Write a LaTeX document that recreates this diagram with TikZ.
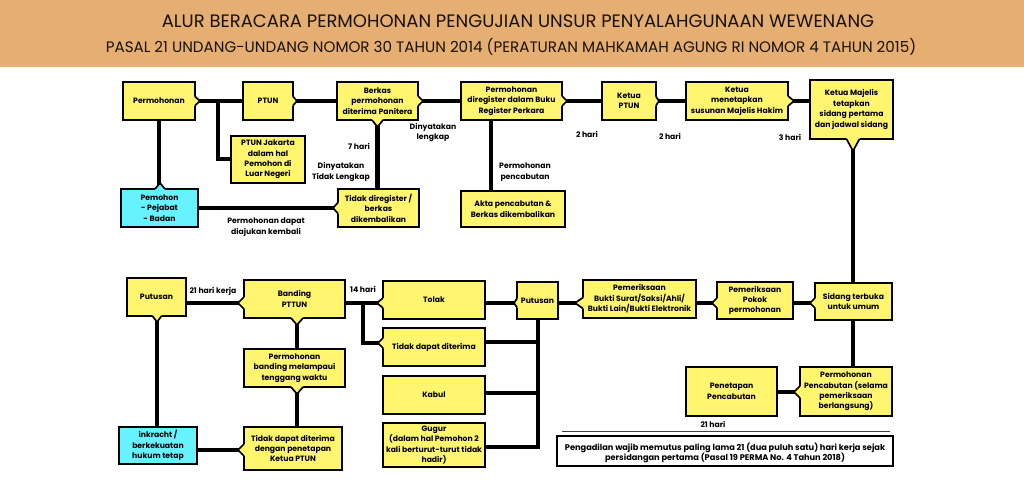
\documentclass[tikz,border=0pt]{standalone}
\usepackage{fontspec}
\setmainfont{Poppins}
\newfontfamily\titlefont{Poppins}
\definecolor{hdr}{HTML}{E5AE72}
\definecolor{boxy}{HTML}{FFF56F}
\definecolor{boxc}{HTML}{66F2FF}
\definecolor{ink}{HTML}{1A1208}
\tikzset{
  lab/.style={font=\bfseries\fontsize{7.7}{10.4}\selectfont,align=center,inner sep=0pt,text=black},
  boxed/.style={lab,draw=black,line width=1.7pt,fill=boxy,outer sep=0pt},
  conn/.style={draw=black,line width=4.8pt},
  tipline/.style={draw=black,line width=1.7pt,line join=miter},
  ttl/.style={text=ink,inner sep=0pt}
}
\newcommand\bxx[6][boxy]{\node[boxed,fill=#1,minimum width={(#5-#3)*1pt},minimum height={(#6-#4)*1pt}] (#2) at ({(#3+#5)/2},{(#4+#6)/2})}
% \tipat[fill]{point}{rotation}{length}{half base}
\newcommand\tipat[5][boxy]{%
  \begin{scope}[shift={(#2)},rotate=#3]
    \fill[#1] (-1.4,#5) -- (0,#5) -- (#4,0) -- (0,-#5) -- (-1.4,-#5) -- cycle;
    \draw[tipline] (0,#5) -- (#4,0) -- (0,-#5);
  \end{scope}}
\begin{document}
\begin{tikzpicture}[x=1pt,y=-1pt]
\useasboundingbox (0,0) rectangle (1024,479);
\fill[white] (0,0) rectangle (1024,479);
\fill[hdr] (0,0) rectangle (1024,66.5);
\node[ttl,font=\titlefont\fontsize{18}{20}\selectfont] (t1) at (518,21) {ALUR BERACARA PERMOHONAN PENGUJIAN UNSUR PENYALAHGUNAAN WEWENANG};
\node[ttl,font=\titlefont\fontsize{15.15}{17}\selectfont] (t2) at (511,47) {PASAL 21 UNDANG-UNDANG NOMOR 30 TAHUN 2014 (PERATURAN MAHKAMAH AGUNG RI NOMOR 4 TAHUN 2015)};

% top row
\bxx{perm}{123}{82}{195}{120} {Permohonan};
\bxx{ptun}{243}{82}{293}{120} {PTUN};
\bxx{berkas}{337}{82}{418}{120} {Berkas\\permohonan\\diterima Panitera};
\bxx{jkt}{231}{136}{305}{183} {PTUN Jakarta\\dalam hal\\Pemohon di\\Luar Negeri};
\bxx[boxc]{pmh}{121}{189}{198}{227} {Pemohon\\- Pejabat\\- Badan};
\bxx{tdk}{338}{189}{419}{227} {Tidak diregister /\\berkas\\dikembalikan};
\bxx{reg}{461}{82}{562}{120} {Permohonan\\diregister dalam Buku\\Register Perkara};
\bxx{akta}{461}{191}{565}{227} {Akta pencabutan \&\\Berkas dikembalikan};
\bxx{kptun}{602}{82}{656}{120} {Ketua\\PTUN};
\bxx{ksus}{686}{82}{788}{120} {Ketua\\menetapkan\\susunan Majelis Hakim};
\bxx{kmaj}{810}{80}{893}{139} {Ketua Majelis\\tetapkan\\sidang pertama\\dan jadwal sidang};

% bottom rows
\bxx{sid}{815}{283}{892}{320} {Sidang terbuka\\untuk umum};
\bxx{pokok}{717}{282}{793}{319} {Pemeriksaan\\Pokok\\permohonan};
\bxx{bukti}{583}{280}{696}{318} {Pemeriksaan\\Bukti Surat/Saksi/Ahli/\\Bukti Lain/Bukti Elektronik};
\bxx{put}{517}{282}{558}{319} {Putusan};
\bxx{tol}{383}{281}{485}{319} {Tolak};
\bxx{tdt}{383}{328}{485}{366} {Tidak dapat diterima};
\bxx{kab}{383}{376}{485}{414} {Kabul};
\bxx{gug}{383}{423}{485}{467} {Gugur\\(dalam hal Pemohon 2\\kali berturut-turut tidak\\hadir)};
\bxx{band}{244}{280}{345}{318} {Banding\\PTTUN};
\bxx{lamp}{244}{349}{345}{387} {Permohonan\\banding melampaui\\tenggang waktu};
\bxx{tdp}{244}{427}{342}{470} {Tidak dapat diterima\\dengan penetapan\\Ketua PTUN};
\bxx{pput}{127}{278}{186}{316} {Putusan};
\bxx[boxc]{ink}{119}{427}{197}{464} {inkracht /\\berkekuatan\\hukum tetap};
\bxx{pcb}{800}{367}{892}{416} {Permohonan\\Pencabutan (selama\\pemeriksaan\\berlangsung)};
\bxx{ptp}{686}{367}{777}{416} {Penetapan\\Pencabutan};
\node[boxed,fill=white,line width=1.4pt,minimum width=336pt,minimum height=30pt,
  label={[lab,font=\bfseries\fontsize{8.25}{10.4}\selectfont,yshift=-2pt]center:{Pengadilan wajib memutus paling lama 21 (dua puluh satu) hari kerja sejak\\persidangan pertama (Pasal 19 PERMA No. 4 Tahun 2018)}}] (note) at (725,451) {};

% free-standing labels
\node[lab] (l1) at (433,132.5) {Dinyatakan\\lengkap};
\node[lab] (l2) at (359,146) {7 hari};
\node[lab] (l3) at (341,172) {Dinyatakan\\Tidak Lengkap};
\node[lab] (l4) at (266,227) {Permohonan dapat\\diajukan kembali};
\node[lab] (l5) at (587,134) {2 hari};
\node[lab] (l6) at (670,136) {2 hari};
\node[lab] (l7) at (790,137) {3 hari};
\node[lab] (l8) at (525,172) {Permohonan\\pencabutan};
\node[lab] (l9) at (213,291) {21 hari kerja};
\node[lab] (l10) at (363,289) {14 hari};
\node[lab] (l11) at (713,424) {21 hari};

% connectors
\coordinate (j1) at (218,101);
\coordinate (j2) at (363,303);
\coordinate (j3) at (538,342);
\coordinate (j4) at (538,393);
\coordinate (r1) at (562,431);
\coordinate (r2) at (890,431);
\draw[conn] (perm.east) -- (ptun.west);
\draw[conn] (j1) |- (jkt.west |- 0,159);
\draw[conn] (perm.south) -- (pmh.north -| perm.south);
\draw[conn] (ptun.east) -- (berkas.west);
\draw[conn] (berkas.east) -- (reg.west);
\draw[conn] (berkas.south) -- (tdk.north -| berkas.south);
\draw[conn] (tdk.west) -- (pmh.east);
\draw[conn] (reg.east) -- (kptun.west);
\draw[conn] (kptun.east) -- (ksus.west);
\draw[conn] (ksus.east) -- (kmaj.west |- ksus.east);
\draw[conn] (reg.south -| 491,0) -- (akta.north -| 491,0);
\draw[conn] (kmaj.south -| 853,0) -- (sid.north -| 853,0);
\draw[conn] (sid.west |- 0,303) -- (pokok.east |- 0,303);
\draw[conn] (pokok.west |- 0,303) -- (bukti.east |- 0,303);
\draw[conn] (bukti.west |- 0,303) -- (put.east |- 0,303);
\draw[conn] (put.west |- 0,303) -- (tol.east |- 0,303);
\draw[conn] (tol.west |- 0,303) -- (band.east |- 0,303);
\draw[conn] (j2) |- (tdt.west |- 0,343);
\draw[conn] (band.west |- 0,303) -- (pput.east |- 0,303);
\draw[conn] (pput.south -| 157,0) -- (ink.north -| 157,0);
\draw[conn] (band.south -| 297,0) -- (lamp.north -| 297,0);
\draw[conn] (lamp.south -| 297,0) -- (tdp.north -| 297,0);
\draw[conn] (tdp.west |- 0,450) -- (ink.east |- 0,450);
\draw[conn] (put.south -| 538,0) -- (538,447) -- (gug.east |- 0,447);
\draw[conn] (tdt.east |- j3) -- (j3);
\draw[conn] (kab.east |- j4) -- (j4);
\draw[conn] (sid.south -| 853,0) -- (pcb.north -| 853,0);
\draw[conn] (pcb.west |- 0,392) -- (ptp.east |- 0,392);
\draw[draw=black!75,line width=0.9pt] (r1) -- (r2);

% pointers
\tipat{perm.east}{0}{5}{4.5}
\tipat{ptun.east}{0}{4}{4.5}
\tipat{berkas.east}{0}{5}{5}
\tipat{berkas.south}{270}{7}{5.5}
\tipat{reg.east}{0}{5}{5}
\tipat{kptun.east}{0}{3}{4.5}
\tipat{ksus.east}{0}{6}{5}
\tipat{kmaj.south -| 853,0}{270}{12}{6.5}
\tipat[boxc]{pmh.north -| 160,0}{90}{6}{5}
\tipat{tdk.west}{180}{5}{5.5}
\tipat{sid.west |- 0,303}{180}{5}{5}
\tipat{pokok.west |- 0,303}{180}{5}{5}
\tipat{bukti.west |- 0,303}{180}{8}{5.5}
\tipat{put.west |- 0,303}{180}{3}{4.5}
\tipat{tol.west |- 0,303}{180}{6}{5}
\tipat{tdt.west |- 0,343}{180}{5}{5}
\tipat{band.west |- 0,303}{180}{6}{6}
\tipat{band.south -| 297,0}{270}{7}{6}
\tipat{lamp.south -| 297,0}{270}{7}{6}
\tipat{tdp.west |- 0,450}{180}{6}{6}
\tipat{pput.south -| 157,0}{270}{6}{4.5}
\tipat{pcb.west |- 0,392}{180}{6}{6}
\end{tikzpicture}
\end{document}
